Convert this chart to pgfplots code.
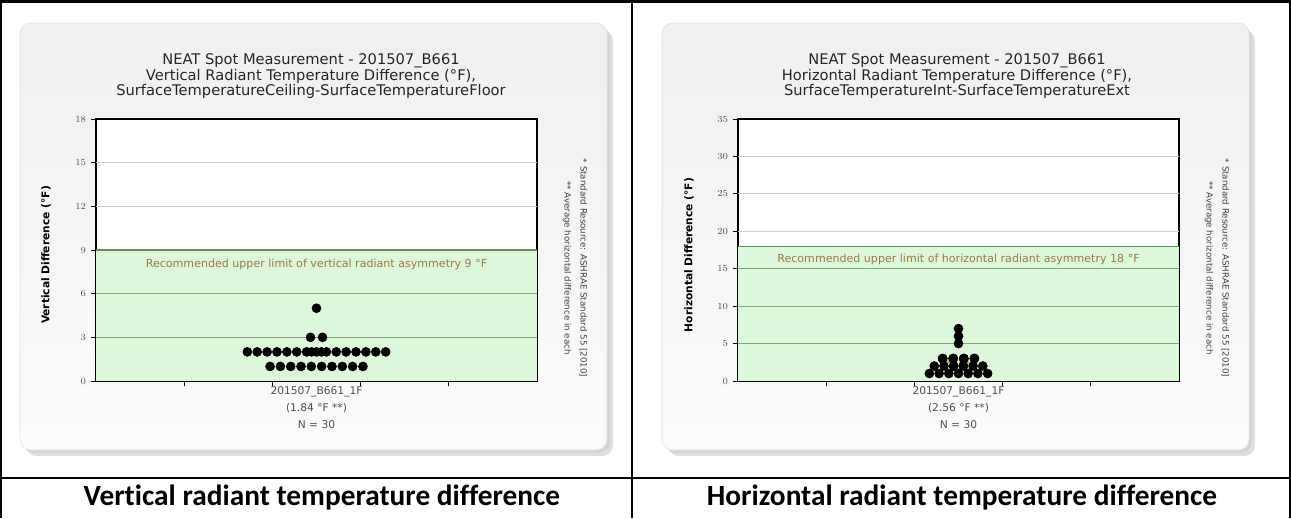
\documentclass[border=0pt]{standalone}
\usepackage{fontspec}
\setmainfont{DejaVu Sans}
\newfontfamily\capfont[Ligatures=NoCommon]{Carlito}
\usepackage{pgfplots}
\pgfplotsset{compat=1.18}

\definecolor{bandgreen}{HTML}{DDF7DA}
\definecolor{bandline}{HTML}{7FA57F}
\definecolor{bandtop}{HTML}{5E8F5E}
\definecolor{gridgray}{HTML}{C8C8C8}
\definecolor{gridpink}{HTML}{E2C6E2}
\definecolor{notebrown}{HTML}{9C7A4A}
\definecolor{meanorange}{HTML}{E08A2C}
\definecolor{ticktext}{HTML}{505050}

\pgfplotsset{
  neat/.style={
    scale only axis, anchor=south west,
    width=330.75pt, height=196.5pt,
    xmin=-2.5, xmax=2.5, ymin=0,
    tick pos=left, tick align=outside, major tick length=4pt,
    axis line style={black, line width=0.8pt},
    tick style={black, line width=0.6pt},
    axis background/.style={fill=white},
    ticklabel style={font=\fontsize{7.5}{8}\selectfont, text=ticktext},
    xtick={-1.5,-0.5,0.5,1.5}, xticklabels={},
    extra x ticks={0},
    extra x tick style={major tick length=0pt,
      xticklabel style={align=center, font=\fontsize{8}{12.4}\selectfont, yshift=-1pt}},
    clip=false,
  },
  dots/.style={only marks, mark=*, mark size=3.4pt, black},
}

\begin{document}
\begin{tikzpicture}[x=0.75pt, y=-0.75pt]
\path[use as bounding box] (0,0) rectangle (1291,518);

% panels with drop shadow
\foreach \dx in {0,642}{
  \fill[gray!55, opacity=0.45, rounded corners=8pt] (26+\dx,30) rectangle (613+\dx,456);
  \fill[gray!45, opacity=0.45, rounded corners=8pt] (23+\dx,27) rectangle (610+\dx,453);
  \shade[rounded corners=8pt, top color=gray!12, bottom color=gray!3, draw=gray!25]
    (20+\dx,23) rectangle (607+\dx,450);
}

% titles
\node[align=center, font=\fontsize{11}{10.3}\selectfont, text=black!85] at (311,76)
  {NEAT Spot Measurement - 201507\_B661\\Vertical Radiant Temperature Difference (°F),\\SurfaceTemperatureCeiling-SurfaceTemperatureFloor};
\node[align=center, font=\fontsize{11}{10.3}\selectfont, text=black!85] at (957,76)
  {NEAT Spot Measurement - 201507\_B661\\Horizontal Radiant Temperature Difference (°F),\\SurfaceTemperatureInt-SurfaceTemperatureExt};

% axis titles
\node[rotate=90, font=\bfseries\fontsize{8}{9}\selectfont] at (46,255) {Vertical Difference (°F)};
\node[rotate=90, font=\bfseries\fontsize{8}{9}\selectfont] at (689,255) {Horizontal Difference (°F)};

% side notes
\node[rotate=-90, align=center, font=\fontsize{6.5}{12}\selectfont, text=black!75] at (575,268)
  {* Standard Resource: ASHRAE Standard 55 [2010]\\** Average horizontal difference in each};
\node[rotate=-90, align=center, font=\fontsize{6.5}{12}\selectfont, text=black!75] at (1217,268)
  {* Standard Resource: ASHRAE Standard 55 [2010]\\** Average horizontal difference in each};

% ---- vertical chart
\begin{axis}[neat, at={(72pt,-285.75pt)}, ymax=18, ytick={0,3,...,18},
  extra x tick labels={201507\_B661\_1F\\(1.84 °F **)\\N = 30}]
\addplot[fill=bandgreen, draw=none] coordinates {(-2.5,9) (2.5,9)} \closedcycle;
\draw[bandline, line width=0.7pt] (axis cs:-2.5,3) -- (axis cs:2.5,3);
\draw[bandline, line width=0.7pt] (axis cs:-2.5,6) -- (axis cs:2.5,6);
\draw[bandtop, line width=1pt] (axis cs:-2.5,9) -- (axis cs:2.5,9);
\draw[gridgray, line width=0.7pt] (axis cs:-2.5,12) -- (axis cs:2.5,12);
\draw[gridgray, line width=0.7pt] (axis cs:-2.5,15) -- (axis cs:2.5,15);
\node[text=notebrown, font=\fontsize{8.3}{9}\selectfont] at (axis cs:0,8.0)
  {Recommended upper limit of vertical radiant asymmetry 9 °F};
\addplot[dots] coordinates {
  (-0.5265,1) (-0.4095,1) (-0.2925,1) (-0.1755,1) (-0.0585,1)
  (0.0585,1) (0.1755,1) (0.2925,1) (0.4095,1) (0.5265,1)
  (-0.784,2) (-0.672,2) (-0.560,2) (-0.448,2) (-0.336,2) (-0.224,2) (-0.112,2) (0,2)
  (0.112,2) (0.224,2) (0.336,2) (0.448,2) (0.560,2) (0.672,2) (0.784,2)
  (-0.056,2) (0.056,2)
  (-0.068,3) (0.068,3)
  (0,5)
};
\addplot[meanorange, line width=2.5pt, opacity=0.8, dash pattern=on 3pt off 1.5pt]
  coordinates {(-0.12,1.84) (0.12,1.84)};
\end{axis}

% ---- horizontal chart
\begin{axis}[neat, at={(553.5pt,-285.75pt)}, ymax=35, ytick={0,5,...,35},
  extra x tick labels={201507\_B661\_1F\\(2.56 °F **)\\N = 30}]
\addplot[fill=bandgreen, draw=none] coordinates {(-2.5,18) (2.5,18)} \closedcycle;
\draw[bandline, line width=0.7pt] (axis cs:-2.5,5) -- (axis cs:2.5,5);
\draw[bandline, line width=0.7pt] (axis cs:-2.5,10) -- (axis cs:2.5,10);
\draw[bandline, line width=0.7pt] (axis cs:-2.5,15) -- (axis cs:2.5,15);
\draw[bandtop, line width=1pt] (axis cs:-2.5,18) -- (axis cs:2.5,18);
\draw[gridpink, line width=0.7pt] (axis cs:-2.5,20) -- (axis cs:2.5,20);
\draw[gridgray, line width=0.7pt] (axis cs:-2.5,25) -- (axis cs:2.5,25);
\draw[gridgray, line width=0.7pt] (axis cs:-2.5,30) -- (axis cs:2.5,30);
\node[text=notebrown, font=\fontsize{8.3}{9}\selectfont] at (axis cs:0,16.3)
  {Recommended upper limit of horizontal radiant asymmetry 18 °F};
\addplot[dots] coordinates {
  (-0.33,1) (-0.22,1) (-0.11,1) (0,1) (0.11,1) (0.22,1) (0.33,1)
  (-0.275,2) (-0.165,2) (-0.055,2) (0.055,2) (0.165,2) (0.275,2) (-0.055,2) (0.055,2)
  (-0.18,3) (-0.06,3) (0.06,3) (0.18,3)
  (-0.18,3) (-0.06,3) (0.06,3) (0.18,3)
  (-0.18,3) (-0.06,3) (0.06,3) (0.18,3)
  (0,5) (0,6) (0,7)
};
\addplot[meanorange, line width=3pt, opacity=0.6, dash pattern=on 3pt off 1.5pt]
  coordinates {(-0.2,2.56) (0.2,2.56)};
\end{axis}

% table rules and captions
\draw[black, line width=2pt] (0,1.3) -- (1291,1.3);
\draw[black, line width=1.5pt] (1,0) -- (1,518);
\draw[black, line width=1.5pt] (1290,0) -- (1290,518);
\draw[black, line width=1.5pt] (632,0) -- (632,518);
\draw[black, line width=1.5pt] (0,478) -- (1291,478);
\node[font=\capfont\bfseries\fontsize{22}{24}\selectfont] at (322,498) {Vertical radiant temperature difference};
\node[font=\capfont\bfseries\fontsize{22}{24}\selectfont] at (962,498) {Horizontal radiant temperature difference};
\end{tikzpicture}
\end{document}
